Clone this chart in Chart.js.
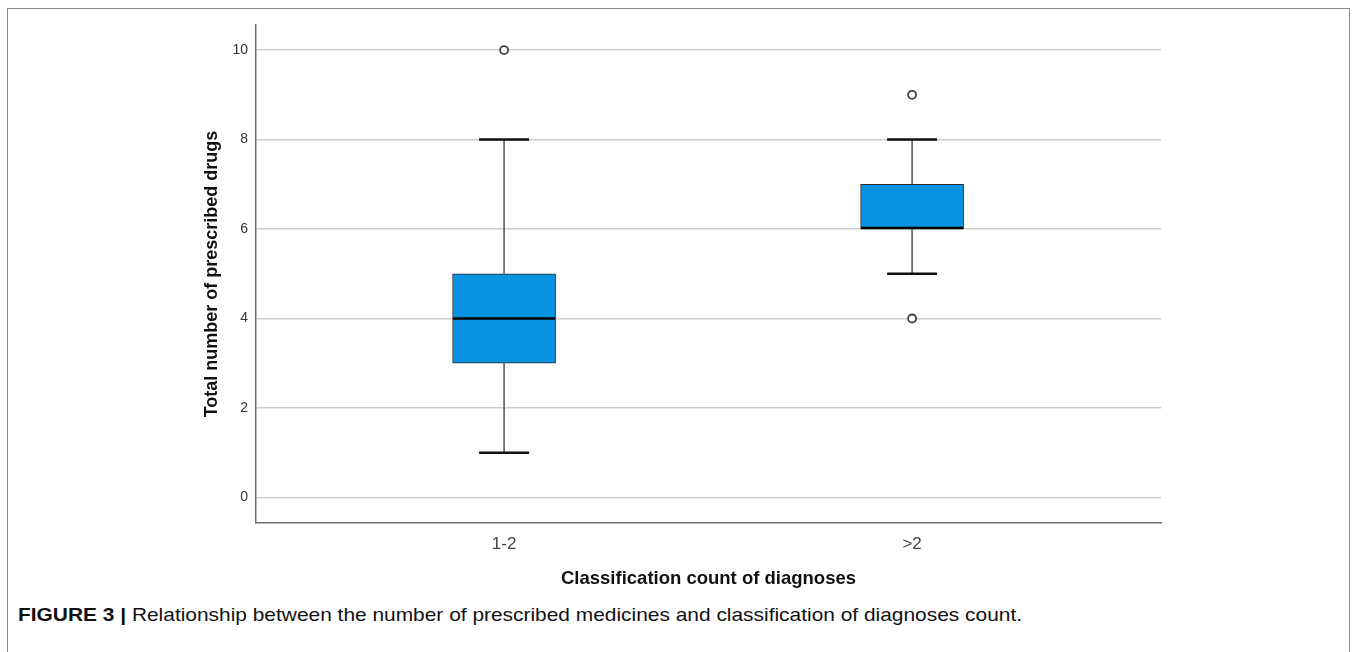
<!DOCTYPE html>
<html>
<head>
<meta charset="utf-8">
<script src="https://cdn.jsdelivr.net/npm/chart.js@4.4.1/dist/chart.umd.min.js"></script>
<style>
    html, body { margin: 0; padding: 0; background: #fff; }
    body { width: 1355px; height: 652px; position: relative; overflow: hidden; }
    .frame {
        position: absolute; left: 7px; top: 8px; width: 1343px; height: 660px;
        border: 1px solid #8a8a8a; box-sizing: border-box;
    }
    .chart-wrap { position: absolute; left: 0; top: 0; width: 1355px; height: 600px; }
    .caption {
        position: absolute; left: 18px; top: 604px; white-space: nowrap;
        font-family: "Liberation Sans", Arial, sans-serif; font-size: 19px; color: #111;
        transform-origin: 0 0;
    }
    .caption b { font-weight: bold; }
</style>
</head>
<body>
<div class="frame"></div>
<div class="chart-wrap"><canvas id="boxChart" width="1355" height="600"></canvas></div>
<div class="caption" id="caption"><b>FIGURE 3 |</b> Relationship between the number of prescribed medicines and classification of diagnoses count.</div>

<script>
// Box plot data
const categories = ['1-2', '>2'];
const whiskerLow = [1, 5];
const q1 = [3, 6];
const median = [4, 6];
const q3 = [5, 7];
const whiskerHigh = [8, 8];
const outliers = [[10], [9, 4]];
const yTicks = [0, 2, 4, 6, 8, 10];

document.addEventListener('DOMContentLoaded', function() {
    // stretch caption to the width it has in the figure
    const caption = document.getElementById('caption');
    const w = caption.getBoundingClientRect().width;
    caption.style.transform = 'scaleX(' + (1004 / w) + ')';

    const boxData = categories.map((c, i) => ({ x: i + 1, y: [q1[i], q3[i]] }));
    const outlierData = [];
    outliers.forEach((list, i) => {
        list.forEach(v => outlierData.push({ x: i + 1, y: v }));
    });

    // whiskers, caps and medians drawn through the chart scales
    const whiskerPlugin = {
        id: 'whiskers',
        beforeDatasetsDraw(chart) {
            const ctx = chart.ctx;
            const xs = chart.scales.x, ys = chart.scales.y;
            ctx.save();
            categories.forEach((c, i) => {
                const px = xs.getPixelForValue(i + 1);
                ctx.strokeStyle = '#555';
                ctx.lineWidth = 1.5;
                ctx.beginPath();
                ctx.moveTo(px, ys.getPixelForValue(whiskerLow[i]));
                ctx.lineTo(px, ys.getPixelForValue(q1[i]));
                ctx.moveTo(px, ys.getPixelForValue(q3[i]));
                ctx.lineTo(px, ys.getPixelForValue(whiskerHigh[i]));
                ctx.stroke();
                ctx.strokeStyle = '#111';
                ctx.lineWidth = 2.5;
                ctx.beginPath();
                [whiskerLow[i], whiskerHigh[i]].forEach(v => {
                    const py = ys.getPixelForValue(v);
                    ctx.moveTo(px - 25, py);
                    ctx.lineTo(px + 25, py);
                });
                ctx.stroke();
            });
            ctx.restore();
        },
        afterDatasetsDraw(chart) {
            const ctx = chart.ctx;
            const xs = chart.scales.x, ys = chart.scales.y;
            ctx.save();
            ctx.strokeStyle = '#000';
            ctx.lineWidth = 2.5;
            categories.forEach((c, i) => {
                const px = xs.getPixelForValue(i + 1);
                let py = ys.getPixelForValue(median[i]);
                if (median[i] === q1[i]) py -= 1;
                ctx.beginPath();
                ctx.moveTo(px - 51, py);
                ctx.lineTo(px + 51, py);
                ctx.stroke();
            });
            ctx.restore();
        }
    };

    const ctx = document.getElementById('boxChart').getContext('2d');
    new Chart(ctx, {
        data: {
            datasets: [{
                type: 'bar',
                data: boxData,
                backgroundColor: '#0892e2',
                borderColor: '#2a2a2a',
                borderWidth: 1,
                borderSkipped: false,
                barThickness: 103,
                grouped: false,
                order: 2
            }, {
                type: 'scatter',
                data: outlierData,
                pointStyle: 'circle',
                pointRadius: 4,
                pointBackgroundColor: '#fff',
                pointBorderColor: '#444',
                pointBorderWidth: 1.8,
                order: 1
            }]
        },
        options: {
            responsive: false,
            animation: false,
            layout: { padding: { left: 0, top: 25, right: 194, bottom: 0 } },
            plugins: {
                legend: { display: false },
                tooltip: { enabled: false }
            },
            scales: {
                x: {
                    type: 'linear',
                    offset: false,
                    min: 0.392,
                    max: 2.61,
                    afterBuildTicks: axis => { axis.ticks = categories.map((c, i) => ({ value: i + 1 })); },
                    afterFit: axis => { axis.height = 77; },
                    grid: { display: false, drawTicks: false, offset: false },
                    border: { color: '#6e6e6e', width: 1.5 },
                    ticks: {
                        padding: 11,
                        color: '#444',
                        font: { family: 'Arial, "Liberation Sans", sans-serif', size: 17 },
                        callback: v => categories[v - 1]
                    },
                    title: {
                        display: true,
                        text: 'Classification count of diagnoses',
                        color: '#111',
                        font: { family: 'Arial, "Liberation Sans", sans-serif', size: 18.5, weight: 'bold' },
                        padding: { top: 0, bottom: 10 }
                    }
                },
                y: {
                    min: -0.57,
                    max: 10.56,
                    afterBuildTicks: axis => { axis.ticks = yTicks.map(v => ({ value: v })); },
                    afterFit: axis => { axis.width = 256; },
                    grid: { color: '#cdcdcd', lineWidth: 1.5, drawTicks: false },
                    border: { color: '#6e6e6e', width: 1.5 },
                    ticks: {
                        padding: 8,
                        color: '#333',
                        font: { family: 'Arial, "Liberation Sans", sans-serif', size: 14 }
                    },
                    title: {
                        display: true,
                        text: 'Total number of prescribed drugs',
                        color: '#111',
                        font: { family: 'Arial, "Liberation Sans", sans-serif', size: 18, weight: 'bold' },
                        padding: { top: 201, bottom: 0 }
                    }
                }
            }
        },
        plugins: [whiskerPlugin]
    });
});
</script>
</body>
</html>
